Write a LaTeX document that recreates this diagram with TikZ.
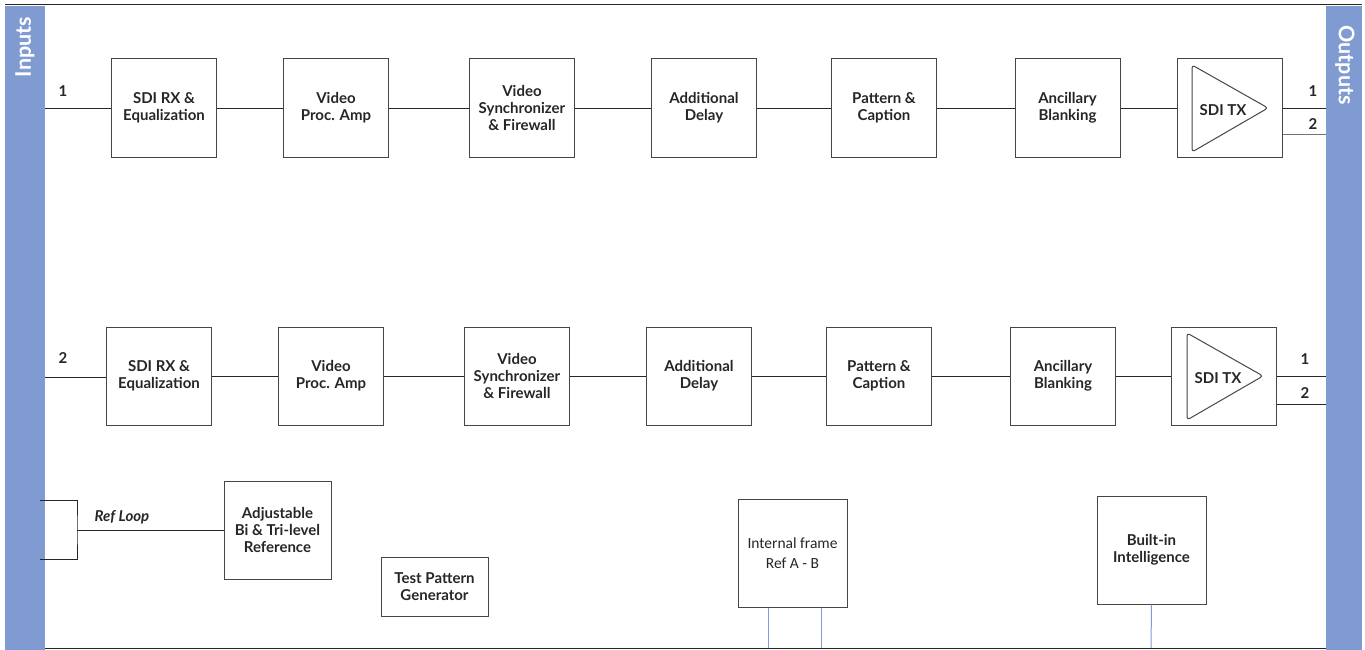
\documentclass[tikz,border=0pt]{standalone}
\usepackage{fontspec}
\setmainfont{Lato}
\newfontfamily\calibri{Carlito}
\definecolor{barblue}{RGB}{127,155,210}
\definecolor{boxline}{RGB}{70,70,70}
\begin{document}
\begin{tikzpicture}[x=1pt,y=-1pt,
  blk/.style={draw=boxline,line width=1pt,minimum width=105pt,minimum height=98pt,inner sep=0pt,
    align=center,font=\fontsize{15}{17}\selectfont\bfseries,text=black!85},
  wire/.style={draw=black!85,line width=0.9pt},
  greywire/.style={draw=black!55,line width=1pt},
  blueline/.style={draw=barblue,line width=1pt},
  num/.style={font=\fontsize{15}{17}\selectfont\bfseries,text=black!85,inner sep=0pt},
  bartext/.style={font=\fontsize{21.5}{23}\selectfont\bfseries,text=white,inner sep=0pt}]
\useasboundingbox (0,0) rectangle (1365,650);
% bars and frame
\fill[barblue] (5,6) rectangle (45,650);
\fill[barblue] (1326,6) rectangle (1362,650);
\draw[black!85,line width=1pt] (5,5) -- (1362,5);
\draw[black!85,line width=1pt] (45,648) -- (1326,648);
\node[bartext,rotate=90] (inl) at (25,47) {Inputs};
\node[bartext,rotate=-90] (outl) at (1345,65) {Outputs};
% row 1
\node[blk] (rx1) at (164,108) {SDI RX \&\\Equalization};
\node[blk] (amp1) at (336,108) {Video\\Proc. Amp};
\node[blk] (syn1) at (522,108) {Video\\Synchronizer\\\& Firewall};
\node[blk] (del1) at (704,108) {Additional\\Delay};
\node[blk] (pat1) at (884,108) {Pattern \&\\Caption};
\node[blk] (anc1) at (1067.5,108) {Ancillary\\Blanking};
\node[blk] (tx1) at (1229.5,108) {};
\draw[boxline,line width=1pt,rounded corners=3pt] (1192,65) -- (1268,108) -- (1192,152) -- cycle;
\node[num] (txl1) at (1223,110) {SDI TX};
% row 2
\node[blk] (rx2) at (159,376) {SDI RX \&\\Equalization};
\node[blk] (amp2) at (331,376) {Video\\Proc. Amp};
\node[blk] (syn2) at (517,376) {Video\\Synchronizer\\\& Firewall};
\node[blk] (del2) at (699,376) {Additional\\Delay};
\node[blk] (pat2) at (879,376) {Pattern \&\\Caption};
\node[blk] (anc2) at (1063,376) {Ancillary\\Blanking};
\node[blk] (tx2) at (1224,376) {};
\draw[boxline,line width=1pt,rounded corners=3pt] (1187,333) -- (1263,376) -- (1187,420) -- cycle;
\node[num] (txl2) at (1218,378) {SDI TX};
% row 1 wiring
\coordinate (in1) at (45,108);
\coordinate (o1a) at (1326,108);
\coordinate (o1b) at (1326,135);
\draw[wire] (in1) -- (rx1.west);
\draw[wire] (rx1) -- (amp1);
\draw[wire] (amp1) -- (syn1);
\draw[wire] (syn1) -- (del1);
\draw[wire] (del1) -- (pat1);
\draw[wire] (pat1) -- (anc1);
\draw[wire] (anc1) -- (tx1);
\draw[wire] (tx1.east) -- (o1a);
\draw[greywire] (tx1.east |- o1b) -- (o1b);
\node[num] (i1) at (63,91) {1};
\node[num] (o1n) at (1313,91) {1};
\node[num] (o2n) at (1313,124) {2};
% row 2 wiring
\coordinate (in2) at (45,377);
\coordinate (o2a) at (1326,376);
\coordinate (o2b) at (1326,404);
\draw[wire] (in2) -- (rx2.west |- in2);
\draw[wire] (rx2) -- (amp2);
\draw[wire] (amp2) -- (syn2);
\draw[wire] (syn2) -- (del2);
\draw[wire] (del2) -- (pat2);
\draw[wire] (pat2) -- (anc2);
\draw[wire] (anc2) -- (tx2);
\draw[wire] (tx2.east) -- (o2a);
\draw[wire] (tx2.east |- o2b) -- (o2b);
\node[num] (i2) at (63,358) {2};
\node[num] (o21n) at (1305,359) {1};
\node[num] (o22n) at (1305,393) {2};
% row 3
\node[blk,minimum width=107pt,minimum height=98pt] (adj) at (277.5,530) {Adjustable\\Bi \& Tri-level\\Reference};
\node[blk,minimum width=107pt,minimum height=59pt] (tpg) at (434.5,586.5) {Test Pattern\\Generator};
\node[blk,minimum width=109pt,minimum height=108pt,font=\calibri\fontsize{15.5}{20}\selectfont] (ifr) at (792.5,553) {Internal frame\\Ref A - B};
\node[blk,minimum width=109pt,minimum height=108pt] (bii) at (1151.5,550) {Built-in\\Intelligence};
\coordinate (rl1) at (40,500);
\coordinate (rl2) at (40,559);
\coordinate (rlj) at (77,530);
\draw[wire] (rl1) -| (rlj) |- (rl2);
\draw[wire] (rlj) -- (adj.west);
\node[font=\fontsize{15}{17}\selectfont\bfseries\itshape,text=black!85,inner sep=0pt] (rlt) at (122,517) {Ref Loop};
\coordinate (b1) at (768,648);
\coordinate (b2) at (821,648);
\coordinate (b3) at (1151,648);
\draw[blueline] (ifr.south -| b1) -- (b1);
\draw[blueline] (ifr.south -| b2) -- (b2);
\draw[blueline] (bii.south) -- (b3);
\end{tikzpicture}
\end{document}
